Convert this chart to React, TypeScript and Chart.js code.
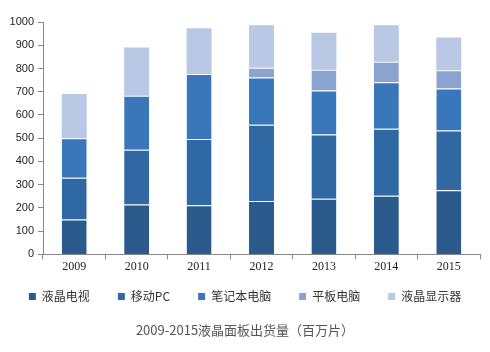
import React, { useEffect, useRef } from "react";
import { Chart, registerables } from "chart.js";

Chart.register(...registerables);

const years = ["2009", "2010", "2011", "2012", "2013", "2014", "2015"];
const lcdTv = [150, 215, 212, 230, 239, 252, 276];
const mobilePc = [180, 235, 285, 328, 277, 289, 257];
const notebook = [170, 233, 279, 203, 189, 200, 181];
const tablet = [0, 0, 0, 42, 90, 88, 78];
const monitor = [190, 207, 197, 183, 159, 157, 141];
const seriesNames = ["液晶电视", "移动PC", "笔记本电脑", "平板电脑", "液晶显示器"];
const seriesColors = ["#2b5a8c", "#3068a4", "#3977ba", "#8ba3d0", "#b9c8e4"];
const titleText = "2009-2015液晶面板出货量（百万片）";

export default function App() {
  const ref = useRef<HTMLCanvasElement | null>(null);
  useEffect(() => {
    document.body.style.margin = "0";
    const values = [lcdTv, mobilePc, notebook, tablet, monitor];
    const baseGen = (Chart as any).defaults.plugins.legend.labels.generateLabels;
    const chart = new Chart(ref.current!, {
      type: "bar",
      data: {
        labels: years,
        datasets: values.map((v, i) => ({
          label: seriesNames[i],
          data: v,
          backgroundColor: seriesColors[i],
          borderColor: "rgba(255,255,255,0.09)",
          borderWidth: i === 4 ? 0 : { top: 1, bottom: 0, left: 0, right: 0 },
          borderSkipped: false,
          barPercentage: 0.4,
          categoryPercentage: 1,
        })),
      },
      options: {
        animation: false,
        responsive: false,
        maintainAspectRatio: false,
        layout: { padding: { left: 0, right: 0, top: 22, bottom: 6 } },
        scales: {
          x: {
            stacked: true,
            grid: { display: true, drawOnChartArea: false, drawTicks: true, tickLength: 5, color: "#888" },
            border: { display: true, color: "#888" },
            ticks: { color: "#222", font: { family: "Liberation Serif", size: 12 }, padding: 0 },
            afterFit: (s: any) => { s.height = 20; },
          },
          y: {
            stacked: true,
            min: 0,
            max: 1000,
            grid: { display: true, drawOnChartArea: false, drawTicks: true, tickLength: 5, color: "#888" },
            border: { display: true, color: "#888" },
            ticks: {
              stepSize: 100,
              color: "#222",
              font: { family: "Liberation Sans", size: 11 },
              padding: 4,
              callback: (v: any) => String(v),
            },
            afterFit: (s: any) => { s.width = 43; },
          },
          yRight: {
            position: "right",
            display: true,
            grid: { display: false },
            border: { display: false },
            ticks: { display: false },
            afterFit: (s: any) => { s.width = 10; },
          },
        },
        plugins: {
          legend: {
            position: "bottom",
            labels: {
              boxWidth: 7,
              boxHeight: 7,
              padding: 16,
              color: "#333",
              font: { family: "Noto Sans CJK SC", size: 12 },
              generateLabels: (c: any) =>
                baseGen(c).map((it: any, i: number, arr: any[]) => ({
                  ...it,
                  text: i < arr.length - 1 ? it.text + "\u3000" : it.text,
                })),
            },
          },
          title: {
            display: true,
            position: "bottom",
            text: titleText,
            color: "#555",
            font: { family: "Noto Sans CJK SC", size: 13, weight: "normal" },
            padding: { top: 10, bottom: 8 },
          },
          tooltip: { enabled: false },
        },
      },
    });
    return () => chart.destroy();
  }, []);
  return (
    <div style={{ width: 490, height: 352 }}>
      <canvas ref={ref} width={490} height={352} />
    </div>
  );
}
